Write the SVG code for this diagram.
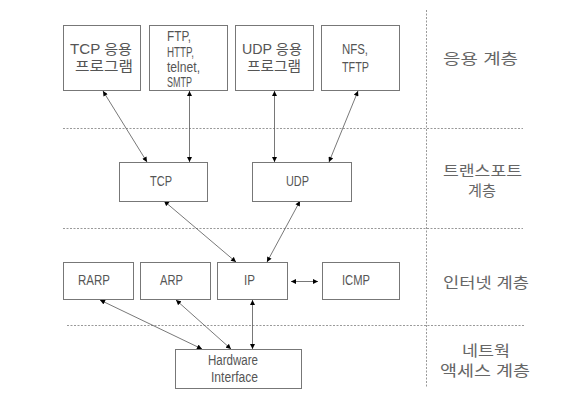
<svg xmlns="http://www.w3.org/2000/svg" width="564" height="412" viewBox="0 0 564 412">
<style>
.box{fill:#fff;stroke:#777;stroke-width:1}
.t{font-family:"Liberation Sans","Noto Sans CJK KR",sans-serif;font-size:14px;fill:#555}
.k{font-family:"Liberation Sans","Noto Sans CJK KR",sans-serif;font-size:15px;fill:#666}
.dash{stroke:#999;stroke-width:1;stroke-dasharray:2 1.5;fill:none}
.c{stroke:#555;stroke-width:0.8;fill:none;marker-start:url(#ah);marker-end:url(#ah)}
</style>
<defs>
<marker id="ah" viewBox="0 0 6 6" refX="6" refY="3" markerWidth="6" markerHeight="5" markerUnits="userSpaceOnUse" orient="auto-start-reverse">
<path d="M0,0 L6,3 L0,6 z" fill="#000"/>
</marker>
</defs>
<rect width="564" height="412" fill="#fff"/>
<g id="layers">
<line class="dash" x1="63" y1="128.5" x2="523" y2="128.5"/>
<line class="dash" x1="63" y1="228.5" x2="523" y2="228.5"/>
<line class="dash" x1="67" y1="325.5" x2="525" y2="325.5"/>
<line class="dash" x1="426.5" y1="10" x2="426.5" y2="388"/>
<text class="k" x="443" y="64" textLength="75" lengthAdjust="spacingAndGlyphs">응용 계층</text>
<text class="k" x="443" y="176" textLength="79" lengthAdjust="spacingAndGlyphs">트랜스포트</text>
<text class="k" x="468" y="196" textLength="28" lengthAdjust="spacingAndGlyphs">계층</text>
<text class="k" x="443" y="288" textLength="86" lengthAdjust="spacingAndGlyphs">인터넷 계층</text>
<text class="k" x="462" y="356" textLength="48" lengthAdjust="spacingAndGlyphs">네트웍</text>
<text class="k" x="440" y="376" textLength="90" lengthAdjust="spacingAndGlyphs">액세스 계층</text>
</g>
<g id="connectors">
<line class="c" x1="103" y1="91" x2="147" y2="162"/>
<line class="c" x1="189.5" y1="91" x2="189.5" y2="162"/>
<line class="c" x1="274.5" y1="91" x2="274.5" y2="162"/>
<line class="c" x1="358" y1="91" x2="329" y2="162"/>
<line class="c" x1="164" y1="201" x2="236" y2="262"/>
<line class="c" x1="300" y1="201" x2="267" y2="262"/>
<line class="c" x1="291" y1="281.5" x2="318" y2="281.5"/>
<line class="c" x1="100" y1="300" x2="202" y2="349"/>
<line class="c" x1="176" y1="300" x2="231" y2="349"/>
<line class="c" x1="252.5" y1="300" x2="252.5" y2="349"/>
</g>
<g id="tcp-app">
<rect class="box" x="63.5" y="25.5" width="77" height="65"/>
<text class="t" x="70" y="54" textLength="62" lengthAdjust="spacingAndGlyphs">TCP 응용</text>
<text class="t" x="75" y="71" textLength="58" lengthAdjust="spacingAndGlyphs">프로그램</text>
</g>
<g id="ftp-app">
<rect class="box" x="149.5" y="25.5" width="78" height="65"/>
<text class="t" x="167" y="41" textLength="24" lengthAdjust="spacingAndGlyphs">FTP,</text>
<text class="t" x="167" y="57" textLength="27" lengthAdjust="spacingAndGlyphs">HTTP,</text>
<text class="t" x="167" y="72" textLength="33" lengthAdjust="spacingAndGlyphs">telnet,</text>
<text class="t" x="167" y="87" textLength="25" lengthAdjust="spacingAndGlyphs">SMTP</text>
</g>
<g id="udp-app">
<rect class="box" x="235.5" y="25.5" width="78" height="65"/>
<text class="t" x="242" y="54" textLength="60" lengthAdjust="spacingAndGlyphs">UDP 응용</text>
<text class="t" x="247" y="71" textLength="54" lengthAdjust="spacingAndGlyphs">프로그램</text>
</g>
<g id="nfs-app">
<rect class="box" x="321.5" y="25.5" width="78" height="65"/>
<text class="t" x="342" y="54" textLength="26" lengthAdjust="spacingAndGlyphs">NFS,</text>
<text class="t" x="342" y="72" textLength="27" lengthAdjust="spacingAndGlyphs">TFTP</text>
</g>
<g id="tcp">
<rect class="box" x="119.5" y="162.5" width="88" height="39"/>
<text class="t" x="150" y="186" textLength="22" lengthAdjust="spacingAndGlyphs">TCP</text>
</g>
<g id="udp">
<rect class="box" x="252.5" y="162.5" width="99" height="39"/>
<text class="t" x="286" y="186" textLength="23" lengthAdjust="spacingAndGlyphs">UDP</text>
</g>
<g id="rarp">
<rect class="box" x="63.5" y="262.5" width="70" height="37"/>
<text class="t" x="78" y="285" textLength="32" lengthAdjust="spacingAndGlyphs">RARP</text>
</g>
<g id="arp">
<rect class="box" x="140.5" y="262.5" width="70" height="37"/>
<text class="t" x="160" y="285" textLength="23" lengthAdjust="spacingAndGlyphs">ARP</text>
</g>
<g id="ip">
<rect class="box" x="217.5" y="262.5" width="70" height="37"/>
<text class="t" x="244" y="285" textLength="11" lengthAdjust="spacingAndGlyphs">IP</text>
</g>
<g id="icmp">
<rect class="box" x="322.5" y="262.5" width="77" height="37"/>
<text class="t" x="342" y="285" textLength="28" lengthAdjust="spacingAndGlyphs">ICMP</text>
</g>
<g id="hardware">
<rect class="box" x="175.5" y="349.5" width="126" height="39"/>
<text class="t" x="208" y="365" textLength="50" lengthAdjust="spacingAndGlyphs">Hardware</text>
<text class="t" x="211" y="381.5" textLength="47" lengthAdjust="spacingAndGlyphs">Interface</text>
</g>
</svg>
